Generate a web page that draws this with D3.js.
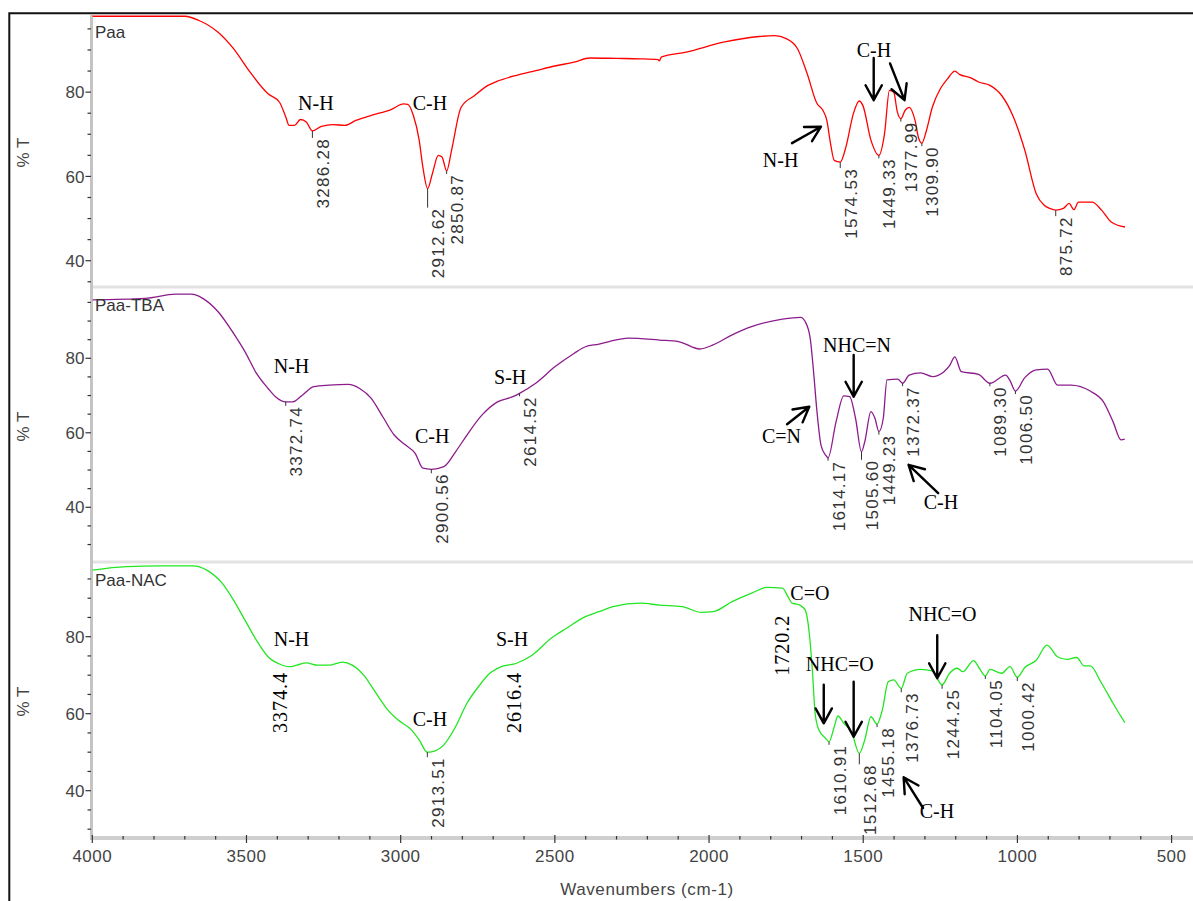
<!DOCTYPE html>
<html>
<head>
<meta charset="utf-8">
<script src="https://cdn.jsdelivr.net/npm/d3@7"></script>
<style>
  body { margin: 0; background: #fff; }
  svg { display: block; }
</style>
</head>
<body>
<svg id="chart" width="1193" height="901"></svg>
<script>
// ---------- data ----------
const sampleNames = ["Paa", "Paa-TBA", "Paa-NAC"];
const wavenumberTicks = [4000, 3500, 3000, 2500, 2000, 1500, 1000, 500];
const transmittanceTicks = [40, 60, 80];

// [wavenumber cm-1, %T]
const paaSpectrum = [
  [4000, 98.0], [3700, 98.0], [3654, 97.0], [3592, 94.2], [3542, 90.3], [3492, 85.1],
  [3430, 79.6], [3393, 77.6], [3372, 74.0], [3362, 72.1], [3344, 72.1], [3325, 73.5],
  [3306, 72.9], [3286.28, 70.8], [3257, 71.9], [3219, 72.3], [3182, 72.1], [3145, 73.3],
  [3095, 74.5], [3033, 75.8], [2990, 77.2], [2977, 77.1], [2959, 74.5], [2940, 68.6],
  [2928, 62.2], [2912.62, 57.1], [2897, 60.7], [2878, 65.0], [2866, 64.6], [2850.87, 61.3],
  [2835, 66.2], [2804, 76.4], [2760, 79.2], [2717, 81.6], [2686, 82.6], [2624, 84.0],
  [2562, 85.1], [2500, 86.2], [2438, 87.1], [2386, 88.1], [2300, 88.0], [2223, 87.9],
  [2165, 87.7], [2161, 87.4], [2155, 88.3], [2074, 89.5], [1949, 91.9], [1837, 93.2],
  [1787, 93.4], [1750, 92.7], [1713, 90.3], [1682, 84.4], [1650, 77.3], [1631, 75.7],
  [1618, 73.3], [1606, 67.8], [1594, 63.8], [1574.53, 63.4], [1556, 67.0], [1532, 74.9],
  [1513, 77.9], [1501, 76.8], [1475, 68.6], [1449.33, 65.0], [1431, 70.1], [1415, 80.4],
  [1401, 80.0], [1390, 75.5], [1377.99, 73.7], [1364, 75.7], [1351, 76.4], [1332, 73.3],
  [1320, 69.0], [1309.90, 67.9], [1295, 70.9], [1276, 76.4], [1250, 80.8], [1226, 83.2],
  [1203, 85.0], [1188, 84.2], [1151, 83.4], [1126, 82.4], [1089, 81.6], [1051, 79.2],
  [1013, 74.1], [976, 66.2], [939, 55.9], [914, 53.2], [895, 52.4], [875.72, 52.0],
  [851, 52.4], [832, 53.6], [817, 52.1], [802, 53.9], [758, 53.9], [727, 52.0],
  [696, 49.2], [651, 48.0]
];

const paaTbaSpectrum = [
  [4000, 95.7], [3828, 96.1], [3729, 97.2], [3679, 97.2], [3642, 96.1], [3592, 92.5],
  [3542, 86.7], [3505, 81.8], [3468, 76.0], [3430, 71.9], [3406, 69.7], [3372.74, 68.3],
  [3350, 68.3], [3319, 70.1], [3282, 72.4], [3232, 72.8], [3170, 73.0], [3133, 71.9],
  [3096, 69.3], [3058, 64.3], [3021, 59.4], [2984, 56.7], [2953, 54.5], [2928, 50.5],
  [2900.56, 50.2], [2860, 50.9], [2822, 54.9], [2785, 59.4], [2736, 64.8], [2686, 68.3],
  [2636, 69.7], [2614.52, 70.6], [2562, 73.3], [2500, 77.7], [2438, 81.3], [2401, 83.1],
  [2357, 83.8], [2324, 84.5], [2261, 85.4], [2161, 84.9], [2099, 84.5], [2030, 82.5],
  [1987, 83.6], [1925, 86.3], [1862, 88.5], [1762, 90.5], [1703, 91.0], [1688, 89.8],
  [1672, 85.4], [1662, 77.3], [1650, 65.7], [1637, 56.7], [1622, 54.0], [1614.17, 53.3],
  [1588, 63.0], [1563, 69.9], [1544, 69.7], [1525, 63.9], [1505.60, 54.9], [1495, 57.6],
  [1475, 65.7], [1462, 63.9], [1449.23, 60.3], [1435, 63.9], [1423, 74.2], [1388, 74.4],
  [1372.37, 73.3], [1351, 75.5], [1314, 76.1], [1276, 75.1], [1238, 76.4], [1220, 78.0],
  [1203, 80.4], [1182, 76.4], [1126, 75.7], [1089.30, 73.3], [1038, 75.5], [1024, 74.0],
  [1006.50, 71.2], [976, 74.8], [939, 76.9], [902, 77.1], [870, 72.8], [826, 72.8],
  [764, 71.2], [721, 68.3], [690, 63.0], [664, 58.1], [652, 58.3]
];

const paaNacSpectrum = [
  [4000, 97.3], [3890, 98.2], [3778, 98.4], [3673, 98.4], [3629, 97.3], [3579, 93.9],
  [3542, 89.5], [3505, 84.3], [3468, 79.1], [3430, 74.8], [3393, 72.9], [3362, 72.2],
  [3337, 72.6], [3306, 73.2], [3269, 72.6], [3232, 72.6], [3189, 73.4], [3157, 72.6],
  [3120, 70.0], [3083, 65.7], [3046, 61.4], [3009, 58.4], [2965, 55.8], [2940, 53.2],
  [2913.51, 50.0], [2900, 50.1], [2860, 51.9], [2822, 56.6], [2785, 62.7], [2748, 67.0],
  [2711, 70.5], [2674, 72.2], [2624, 73.1], [2574, 75.2], [2512, 79.6], [2462, 82.2],
  [2401, 85.2], [2357, 86.5], [2311, 87.8], [2223, 88.7], [2161, 88.2], [2087, 87.8],
  [2024, 86.3], [1987, 86.5], [1925, 89.1], [1862, 91.3], [1812, 92.8], [1762, 92.6],
  [1744, 90.4], [1731, 88.7], [1720.2, 88.5], [1706, 88.2], [1688, 86.9], [1675, 80.9],
  [1665, 71.4], [1656, 60.1], [1644, 55.8], [1622, 53.6], [1610.91, 52.7], [1594, 56.6],
  [1582, 59.4], [1563, 57.5], [1538, 55.3], [1512.68, 49.7], [1495, 53.2], [1475, 59.2],
  [1455.18, 57.3], [1438, 61.0], [1419, 68.3], [1401, 68.8], [1376.73, 66.6], [1357, 70.5],
  [1314, 71.5], [1276, 71.1], [1244.25, 67.5], [1220, 70.5], [1195, 71.8], [1177, 70.9],
  [1142, 73.8], [1125, 72.0], [1104.05, 69.8], [1089, 71.5], [1051, 70.5], [1024, 72.2],
  [1000.42, 69.5], [976, 72.0], [939, 73.9], [904, 77.8], [870, 74.8], [839, 74.1],
  [808, 74.6], [783, 72.4], [764, 72.4], [727, 67.9], [690, 62.7], [652, 57.7]
];

// picked peak positions (cm-1)
const paaPeaks = [3286.28, 2912.62, 2850.87, 1574.53, 1449.33, 1377.99, 1309.90, 875.72];
const paaTbaPeaks = [3372.74, 2900.56, 2614.52, 1614.17, 1505.60, 1449.23, 1372.37, 1089.30, 1006.50];
const paaNacPeaks = [2913.51, 1610.91, 1512.68, 1455.18, 1376.73, 1244.25, 1104.05, 1000.42];

// band assignments: text at [cm-1, %T]
const paaBands = [
  { text: "N-H", wn: 3275, t: 75.8 }, { text: "C-H", wn: 2905, t: 75.8 },
  { text: "C-H", wn: 1465, t: 88.3 }, { text: "N-H", wn: 1768, t: 62.3 }
];
const paaTbaBands = [
  { text: "N-H", wn: 3354, t: 76.0 }, { text: "C-H", wn: 2898, t: 57.2 },
  { text: "S-H", wn: 2645, t: 73.1 }, { text: "NHC=N", wn: 1520, t: 81.8 },
  { text: "C=N", wn: 1765, t: 57.2 }, { text: "C-H", wn: 1248, t: 39.5 }
];
const paaNacBands = [
  { text: "N-H", wn: 3354, t: 77.6 }, { text: "C-H", wn: 2905, t: 56.9 },
  { text: "S-H", wn: 2639, t: 77.6 }, { text: "C=O", wn: 1673, t: 89.5 },
  { text: "NHC=O", wn: 1576, t: 71.1 }, { text: "NHC=O", wn: 1243, t: 84.2 },
  { text: "C-H", wn: 1261, t: 32.8 }
];
// hand-written wavenumbers, set vertically
const paaNacNotes = [
  { text: "3374.4", wn: 3392, t: 62.9 }, { text: "2616.4", wn: 2633, t: 62.9 },
  { text: "1720.2", wn: 1762, t: 77.8 }
];

// arrows: [from cm-1, from %T, to cm-1, to %T]
const paaArrows = [
  [1466, 88.1, 1466, 78.1], [1413, 86.8, 1366, 78.1], [1731, 67.9, 1637, 71.8]
];
const paaTbaArrows = [
  [1531, 80.9, 1531, 69.7], [1747, 62.3, 1675, 67.0], [1257, 43.8, 1353, 51.4]
];
const paaNacArrows = [
  [1628, 67.5, 1628, 57.5], [1531, 68.3, 1531, 54.0], [1260, 80.4, 1260, 69.2],
  [1306, 35.5, 1369, 43.5]
];

// ---------- layout ----------
const W = 1193, H = 901;
const plotLeft = 91.5, axisY = 838;
const colors = ["#ff0000", "#8c1c8c", "#22e622"];
const panels = [
  { name: sampleNames[0], spectrum: paaSpectrum, peaks: paaPeaks, bands: paaBands, arrows: paaArrows, notes: [],
    top: 15, bottom: 286, domain: [34, 98.3], color: colors[0],
    drop: { "2912.62": 18, "3286.28": 6, "1574.53": 5, "875.72": 5 } },
  { name: sampleNames[1], spectrum: paaTbaSpectrum, peaks: paaTbaPeaks, bands: paaTbaBands, arrows: paaTbaArrows, notes: [],
    top: 288, bottom: 561, domain: [25.58, 98.87], color: colors[1],
    drop: { "1505.60": 7, "3372.74": 3, "2900.56": 3 } },
  { name: sampleNames[2], spectrum: paaNacSpectrum, peaks: paaNacPeaks, bands: paaNacBands, arrows: paaNacArrows, notes: paaNacNotes,
    top: 563, bottom: 836, domain: [28.23, 99.14], color: colors[2],
    drop: { "1512.68": 10, "2913.51": 4, "1376.73": 3, "1244.25": 3, "1000.42": 3 } }
];

const svg = d3.select("#chart");
const x = d3.scaleLinear().domain([4000, 500]).range([92.3, 1171.6]);

const sans = "'Liberation Sans', Arial, sans-serif";
const serif = "'Liberation Serif', 'Times New Roman', serif";

// outer frame
svg.append("path")
  .attr("d", `M9.3,${H} V13.3 H${W}`)
  .attr("fill", "none").attr("stroke", "#111").attr("stroke-width", 2);

// panel separators
[287, 562].forEach(yy => {
  svg.append("line").attr("x1", plotLeft).attr("x2", W).attr("y1", yy).attr("y2", yy)
    .attr("stroke", "#e2e2e2").attr("stroke-width", 3);
});

// left axis band
svg.append("line").attr("x1", plotLeft).attr("x2", plotLeft).attr("y1", 15).attr("y2", axisY + 2)
  .attr("stroke", "#c4c4c4").attr("stroke-width", 3);
// bottom axis band
svg.append("line").attr("x1", plotLeft).attr("x2", W).attr("y1", axisY).attr("y2", axisY)
  .attr("stroke", "#cfcfcf").attr("stroke-width", 4);

// x ticks
const xMinor = d3.range(4000, 399, -100);
svg.append("g").selectAll("line").data(xMinor).join("line")
  .attr("x1", d => x(d)).attr("x2", d => x(d))
  .attr("y1", d => wavenumberTicks.includes(d) ? 835 : 836)
  .attr("y2", d => wavenumberTicks.includes(d) ? 843 : 839.5)
  .attr("stroke", "#333").attr("stroke-width", 1.2);
svg.append("g").selectAll("text").data(wavenumberTicks).join("text")
  .attr("x", d => x(d)).attr("y", 862)
  .attr("text-anchor", "middle")
  .attr("font-family", sans).attr("font-size", 17).attr("letter-spacing", 0.5)
  .attr("fill", "#444").text(d => d);

svg.append("text").attr("x", 647).attr("y", 895)
  .attr("text-anchor", "middle").attr("font-family", sans).attr("font-size", 17)
  .attr("letter-spacing", 0.6).attr("fill", "#444").text("Wavenumbers (cm-1)");

const line = d3.line().curve(d3.curveMonotoneX);

function valueAt(spectrum, wn) {
  const hit = spectrum.find(d => Math.abs(d[0] - wn) < 1e-6);
  if (hit) return hit[1];
  const i = spectrum.findIndex(d => d[0] < wn);
  const a = spectrum[i - 1], b = spectrum[i];
  return a[1] + (b[1] - a[1]) * (wn - a[0]) / (b[0] - a[0]);
}

function arrow(g, x1, y1, x2, y2) {
  const ang = Math.atan2(y2 - y1, x2 - x1);
  const L = 17, half = 0.5;
  const ax = x2 - L * Math.cos(ang - half), ay = y2 - L * Math.sin(ang - half);
  const bx = x2 - L * Math.cos(ang + half), by = y2 - L * Math.sin(ang + half);
  g.append("path")
    .attr("d", `M${x1},${y1} L${x2},${y2} M${ax},${ay} L${x2},${y2} L${bx},${by}`)
    .attr("fill", "none").attr("stroke", "#000").attr("stroke-width", 2.4)
    .attr("stroke-linecap", "round").attr("stroke-linejoin", "round");
}

panels.forEach((p, i) => {
  const y = d3.scaleLinear().domain(p.domain).range([p.bottom, p.top]);
  const g = svg.append("g");

  // y ticks every 5 %T
  const yTicks = d3.range(Math.ceil(p.domain[0] / 5) * 5, p.domain[1], 5);
  g.append("g").selectAll("line").data(yTicks).join("line")
    .attr("x1", d => transmittanceTicks.includes(d) ? 85.5 : 87.5).attr("x2", 91)
    .attr("y1", d => y(d)).attr("y2", d => y(d))
    .attr("stroke", "#333").attr("stroke-width", 1.2);
  g.append("g").selectAll("text").data(transmittanceTicks).join("text")
    .attr("x", 84.5).attr("y", d => y(d)).attr("dy", "0.36em")
    .attr("text-anchor", "end").attr("font-family", sans).attr("font-size", 17)
    .attr("fill", "#444").text(d => d);

  // axis title
  const cy = (p.top + p.bottom) / 2;
  g.append("text").attr("transform", `translate(29,${cy + 2}) rotate(-90)`)
    .attr("text-anchor", "middle").attr("font-family", sans).attr("font-size", 17)
    .attr("fill", "#444").text("% T");

  // spectrum
  const clipId = "clip" + i;
  svg.append("clipPath").attr("id", clipId).append("rect")
    .attr("x", plotLeft + 1).attr("y", p.top).attr("width", W).attr("height", p.bottom - p.top);
  g.append("path")
    .attr("clip-path", `url(#${clipId})`)
    .attr("d", line(p.spectrum.map(d => [x(d[0]), y(d[1])])))
    .attr("fill", "none").attr("stroke", p.color).attr("stroke-width", 1.3);

  // sample name
  g.append("text").attr("x", 95).attr("y", p.top + 22.5)
    .attr("font-family", sans).attr("font-size", 17).attr("fill", "#333").text(p.name);

  // peak picks
  p.peaks.forEach(wn => {
    const label = wn.toFixed(2);
    const px = x(wn), py = y(valueAt(p.spectrum, wn));
    const drop = p.drop[label] !== undefined ? p.drop[label] : 2;
    g.append("line").attr("x1", px).attr("x2", px).attr("y1", py).attr("y2", py + drop + 1)
      .attr("stroke", "#333").attr("stroke-width", 1);
    g.append("text")
      .attr("transform", `translate(${px + 16.5},${py + drop + 1}) rotate(-90)`)
      .attr("text-anchor", "end").attr("font-family", sans).attr("font-size", 17)
      .attr("letter-spacing", 1.3).attr("fill", "#333").text(label);
  });

  // band assignments
  p.bands.forEach(b => {
    g.append("text").attr("x", x(b.wn)).attr("y", y(b.t))
      .attr("text-anchor", "middle").attr("font-family", serif).attr("font-size", 20)
      .attr("fill", "#000").text(b.text);
  });
  p.notes.forEach(n => {
    g.append("text")
      .attr("transform", `translate(${x(n.wn)},${y(n.t)}) rotate(-90)`)
      .attr("text-anchor", "middle").attr("dominant-baseline", "central")
      .attr("font-family", serif).attr("font-size", 20).attr("letter-spacing", 1)
      .attr("fill", "#000").text(n.text);
  });
  p.arrows.forEach(a => arrow(g, x(a[0]), y(a[1]), x(a[2]), y(a[3])));
});
</script>
</body>
</html>
